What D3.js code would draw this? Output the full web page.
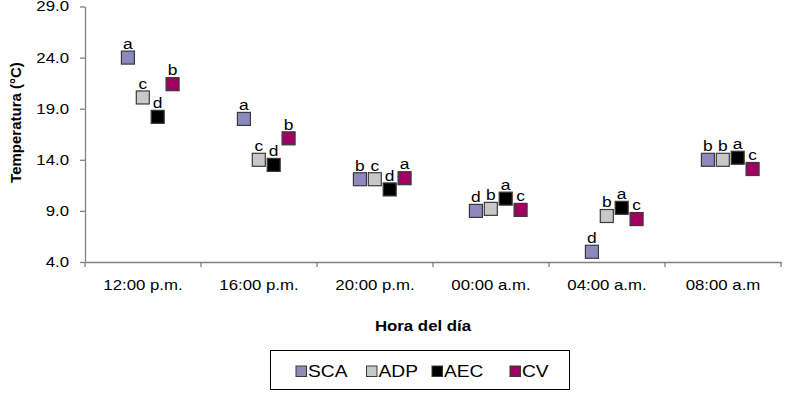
<!DOCTYPE html>
<html><head><meta charset="utf-8">
<script src="https://cdn.jsdelivr.net/npm/d3@7"></script>
<style>body{margin:0;background:#fff}svg{display:block;font-family:Arial,"Liberation Sans",sans-serif}</style>
</head><body><svg id="c" width="786" height="393"></svg>
<script>
const categories = ["12:00 p.m.","16:00 p.m.","20:00 p.m.","00:00 a.m.","04:00 a.m.","08:00 a.m"];
const seriesNames = ["SCA","ADP","AEC","CV"];
const seriesColors = ["#8c89bf","#c8c8c8","#000000","#a0005f"];
const SCA = [24.0,18.0,12.1,9.0,5.0,14.0];
const ADP = [20.1,14.0,12.1,9.2,8.5,14.0];
const AEC = [18.2,13.5,11.1,10.2,9.3,14.2];
const CV  = [21.4,16.1,12.2,9.1,8.2,13.1];
const lettersSCA = ["a","a","b","d","d","b"];
const lettersADP = ["c","c","c","b","b","b"];
const lettersAEC = ["d","d","d","a","a","a"];
const lettersCV  = ["b","b","a","c","c","c"];
const yTicks = [4,9,14,19,24,29];

const values = [SCA,ADP,AEC,CV];
const letters = [lettersSCA,lettersADP,lettersAEC,lettersCV];
const SX = 1.2; // horizontal text stretch seen in the reference
const FF = "Arial,'Liberation Sans',sans-serif";
const svg = d3.select("#c");
const m = {l:85, r:781, t:6.5, b:262};
const x = d3.scaleBand().domain(categories).range([m.l,m.r]);
const off = d3.scaleLinear().domain([0,3]).range([-0.13,0.255]);
const y = d3.scaleLinear().domain([4,29]).range([m.b,m.t]);
const axisColor = "#808080";

// y axis
const ya = svg.append("g").attr("transform",`translate(${m.l},0)`)
  .call(d3.axisLeft(y).tickValues(yTicks).tickFormat(d3.format(".1f")).tickSize(5).tickSizeOuter(0));
ya.select(".domain").attr("stroke",axisColor).attr("stroke-width",1.3);
ya.selectAll(".tick line").attr("stroke",axisColor).attr("stroke-width",1.3);
ya.selectAll(".tick text").attr("font-size",14).attr("fill","#000").attr("font-family",FF)
  .attr("x",-16/SX).attr("transform",`scale(${SX},1)`);

// x axis
const xa = svg.append("g").attr("transform",`translate(0,${m.b})`)
  .call(d3.axisBottom(x).tickSize(0).tickPadding(18));
xa.select(".domain").attr("stroke",axisColor).attr("stroke-width",1.3);
xa.selectAll(".tick text").attr("font-size",14).attr("fill","#000").attr("font-family",FF)
  .attr("transform",`scale(${SX},1)`);
const bounds = categories.map(c=>x(c)).concat([m.r]);
svg.append("g").selectAll("line").data(bounds).join("line")
  .attr("x1",d=>d).attr("x2",d=>d).attr("y1",m.b).attr("y2",m.b+5)
  .attr("stroke",axisColor).attr("stroke-width",1.3);

// markers
const s = 13;
seriesNames.forEach((name,i)=>{
  const g = svg.append("g");
  const pts = categories.map((c,j)=>({cx:x(c)+x.bandwidth()*(0.5+off(i)), cy:y(values[i][j]), l:letters[i][j]}));
  g.selectAll("rect").data(pts).join("rect")
    .attr("x",d=>d.cx-s/2).attr("y",d=>d.cy-s/2).attr("width",s).attr("height",s)
    .attr("fill",seriesColors[i]).attr("stroke","#3a3a3a").attr("stroke-width",1.2);
  g.selectAll("text").data(pts).join("text")
    .attr("transform",d=>`translate(${d.cx},${d.cy-s/2-2.2}) scale(${SX},1)`).attr("text-anchor","middle")
    .attr("font-size",14.5).attr("fill","#000").text(d=>d.l);
});

// titles
svg.append("text").attr("transform",`translate(20.5,122.5) rotate(-90)`)
  .attr("text-anchor","middle").attr("font-size",15).attr("font-weight","bold").text("Temperatura (°C)");
svg.append("text").attr("transform",`translate(423,331) scale(${SX},1)`).attr("text-anchor","middle")
  .attr("font-size",14).attr("font-weight","bold").text("Hora del día");

// legend
svg.append("rect").attr("x",270.5).attr("y",350.5).attr("width",299).attr("height",39)
  .attr("fill","#fff").attr("stroke","#000").attr("stroke-width",1);
const lx = [296,366.5,432,510];
const lg = svg.append("g").selectAll("g").data(seriesNames).join("g")
  .attr("transform",(d,i)=>`translate(${lx[i]},376.5)`);
lg.append("rect").attr("x",0).attr("y",-10.5).attr("width",10.5).attr("height",10.5)
  .attr("fill",(d,i)=>seriesColors[i]).attr("stroke","#3a3a3a").attr("stroke-width",1);
lg.append("text").attr("transform",`translate(12,0) scale(${SX},1)`).attr("font-size",16)
  .attr("fill","#000").text(d=>d);
</script></body></html>
